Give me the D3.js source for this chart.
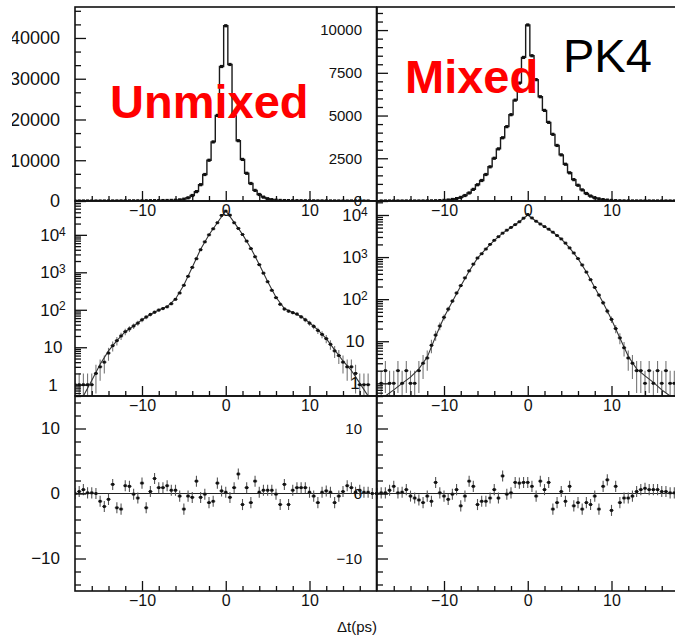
<!DOCTYPE html>
<html><head><meta charset="utf-8">
<script src="https://cdn.jsdelivr.net/npm/d3@7/dist/d3.min.js"></script>
<style>
html,body{margin:0;padding:0;background:#fff;}
svg{display:block;}
text{font-family:"Liberation Sans",Arial,Helvetica,sans-serif;}
</style></head><body>
<svg id="chart" width="675" height="637"></svg>
<script>
// ---------------- DATA ----------------
// Δt bins: centres from -18 to 18 ps, width 0.5 ps
const binWidth = 0.5;
const binStart = -18, binEnd = 18;

// Unmixed event counts per bin (left column), -18 ... 18
const unmixedCounts = [
  1,1,1,1,1,2,3,4,7,11, 15,20,26,31,37,44,54,64,75,86,
  98,108,120,145,190,280,450,780,1350,2300, 4000,6500,10000,14500,21000,33000,
  43000,
  33500,21000,14800,10200,6800,4300,2600,1600,950,560, 330,210,140,105,92,84,77,65,54,44,
  36,28,22,17,12,8,6,4,3,3, 2,1,1,1,0,0
];
// Mixed event counts per bin (right column)
const mixedCounts = [
  0,1,2,1,1,2,1,2,1,1, 2,3,4,8,14,23,37,58,90,140,
  210,320,470,680,950,1200,1550,2000,2500,3050, 3700,4350,5050,5900,6900,8400,
  10300,
  8500,7100,6100,5300,4600,3900,3250,2700,2150,1650, 1250,920,650,440,290,190,125,82,52,33,
  20,12,7,4,3,2,2,1,2,1, 2,1,2,1,1,0
];
// Fit curves sampled at integer Δt, -18 ... 18
const fitUnmixed = [
  0.18,0.5,1.3,3.5,8,15,26,37,54,75,98,122,195,460,1370,4100,10100,21000,
  44000,
  21500,10300,4400,1620,570,215,108,85,66,45,29,17,8.5,4.3,2.4,1.1,0.5,0.2
];
const fitMixed = [
  0.35,0.48,0.7,1.0,1.4,2.2,4.2,13,37,88,205,460,940,1560,2500,3700,5050,6900,
  10000,
  7100,5300,3900,2700,1650,920,440,190,82,33,12,4.4,2.2,1.5,1.05,0.7,0.48,0.33
];
// Residuals (pulls) per bin
const unmixedResid = [
  0,0.3,0.6,0.1,0.1,0.0,-1.2,-2.0,-0.9,1.4, -2.2,-2.4,1.2,1.1,-0.1,-0.7,1.6,-2.2,0.3,2.3,
  0.9,0.9,1.2,0.5,0.5,-0.4,-2.4,-0.4,-0.6,1.9, -0.6,-0.1,-1.4,-1.2,1.6,0.4,
  0.2,
  -0.6,0.9,3.0,-1.7,0.9,-1.4,1.9,0.2,0.5,0.5, 0.5,-0.1,-1.7,1.4,-1.7,0.5,0.9,0.9,0.9,0.2,
  -0.4,-1.4,0.2,0.4,0.2,-1.4,-0.4,0.3,1.2,0.9, 0.2,0.5,0.2,0.2,0.0,0.0
];
const mixedResid = [
  0.0,0.1,0.1,0.5,1.1,0.1,0.2,0.6,-0.4,-0.7, -1.0,-1.4,-0.4,-1.2,1.7,0.1,-0.4,-0.9,-0.1,0.6,
  -1.9,-0.4,1.9,1.1,-1.7,-1.2,-1.2,-0.7,0.6,-0.7, 2.7,-0.1,0.1,1.7,1.6,1.7,
  1.7,
  1.1,-0.4,1.9,0.6,1.7,-2.4,-1.4,0.3,-1.2,1.1, -1.9,-1.4,-2.4,-1.4,-1.7,-0.4,-2.4,1.1,2.1,-2.6,
  1.1,-1.4,-0.7,-0.7,-0.4,0.3,0.6,0.8,0.6,0.6, 0.6,0.3,0.3,0.1,0.1,0.0
];
const pullError = 0.85;

// Tick labels
const xMajorTicks = [-10, 0, 10];
const unmixedLinTicks = [0, 10000, 20000, 30000, 40000];
const mixedLinTicks = [0, 2500, 5000, 7500, 10000];
const logTickPowers = [0, 1, 2, 3, 4];
const residTicks = [-10, 0, 10];
const panelLabels = ["Unmixed", "Mixed"];
const tagLabel = "PK4";
const xTitle = "Δt(ps)";

// ---------------- LAYOUT ----------------
const binCenters = d3.range(binStart, binEnd + 1e-9, binWidth);
const fitX = d3.range(binStart, binEnd + 1e-9, 1);
const W = 301.5;
const ROW_TOP = [7, 201], ROW_MID = [201, 396], ROW_BOT = [396, 591];
const xDomain = [-18, 18];
const residDomain = [-15, 15];
const FONT = '"Liberation Sans",Arial,Helvetica,sans-serif';

const columns = [
  {x0: 75, counts: unmixedCounts, fit: fitUnmixed, resid: unmixedResid, linMax: 47600,
   linTicks: unmixedLinTicks, linMinor: 10000/3, logMax: 80000, ySize: 18, resSize: 17},
  {x0: 377, counts: mixedCounts, fit: fitMixed, resid: mixedResid, linMax: 11350,
   linTicks: mixedLinTicks, linMinor: 500, logMax: 21500, ySize: 15, resSize: 15}
];

const svg = d3.select("#chart");
const defs = svg.append("defs");
let clipN = 0;
function clip(x0, y0, x1, y1) {
  const id = "cp" + (clipN++);
  defs.append("clipPath").attr("id", id).append("rect")
    .attr("x", x0).attr("y", y0).attr("width", x1 - x0).attr("height", y1 - y0);
  return `url(#${id})`;
}
const dataLayer = svg.append("g");
const axisLayer = svg.append("g");
const textLayer = svg.append("g");
// the reference image is cropped just left of x = 12
const leftCrop = clip(12, 0, 675, 637);

columns.forEach(col => {
  const x = d3.scaleLinear().domain(xDomain).range([col.x0, col.x0 + W]);
  const yLin = d3.scaleLinear().domain([0, col.linMax]).range([ROW_TOP[1], ROW_TOP[0]]);
  const yLog = d3.scaleLog().domain([0.5, col.logMax]).range([ROW_MID[1], ROW_MID[0]]).clamp(true);
  const yRes = d3.scaleLinear().domain(residDomain).range([ROW_BOT[1], ROW_BOT[0]]);
  const bins = binCenters.map((c, i) => ({c, v: col.counts[i], r: col.resid[i]}));
  const hw = binWidth / 2;

  // ---- top: linear histogram ----
  const gT = dataLayer.append("g").attr("clip-path", clip(col.x0, ROW_TOP[0], col.x0 + W, ROW_TOP[1]));
  const steps = [];
  bins.forEach(b => { steps.push([b.c - hw, b.v], [b.c + hw, b.v]); });
  gT.append("path")
    .attr("d", d3.line().x(d => x(d[0])).y(d => yLin(d[1]))(steps))
    .attr("fill", "none").attr("stroke", "#1a1a1a").attr("stroke-width", 1.4);
  gT.selectAll("rect").data(bins.filter(b => b.v > 0)).join("rect")
    .attr("x", b => x(b.c) - 1.6).attr("y", b => yLin(b.v) - 1.6)
    .attr("width", 3.2).attr("height", 3.2).attr("fill", "#111");

  // ---- middle: log scale with fit ----
  const gM = dataLayer.append("g").attr("clip-path", clip(col.x0, ROW_MID[0], col.x0 + W, ROW_MID[1]));
  const nz = bins.filter(b => b.v > 0);
  gM.selectAll("line.ev").data(nz).join("line").attr("class", "ev")
    .attr("x1", b => x(b.c)).attr("x2", b => x(b.c))
    .attr("y1", b => yLog(b.v + Math.sqrt(b.v)))
    .attr("y2", b => yLog(Math.max(b.v - Math.sqrt(b.v), 0.01)))
    .attr("stroke", "#777").attr("stroke-width", 1.1);
  gM.append("path")
    .attr("d", d3.line().x((d, i) => x(fitX[i])).y(d => yLog(d))(col.fit))
    .attr("fill", "none").attr("stroke", "#333").attr("stroke-width", 1.1);
  gM.selectAll("line.eh").data(nz).join("line").attr("class", "eh")
    .attr("x1", b => x(b.c - hw)).attr("x2", b => x(b.c + hw))
    .attr("y1", b => yLog(b.v)).attr("y2", b => yLog(b.v))
    .attr("stroke", "#222").attr("stroke-width", 1.2);
  gM.selectAll("rect").data(nz).join("rect")
    .attr("x", b => x(b.c) - 1.4).attr("y", b => yLog(b.v) - 1.4)
    .attr("width", 2.8).attr("height", 2.8).attr("fill", "#111");

  // ---- bottom: residuals ----
  const gB = dataLayer.append("g").attr("clip-path", clip(col.x0, ROW_BOT[0], col.x0 + W, ROW_BOT[1]));
  gB.append("line").attr("x1", x(xDomain[0])).attr("x2", x(xDomain[1]))
    .attr("y1", yRes(0)).attr("y2", yRes(0)).attr("stroke", "#222").attr("stroke-width", 1.2);
  gB.selectAll("line.ev").data(bins).join("line").attr("class", "ev")
    .attr("x1", b => x(b.c)).attr("x2", b => x(b.c))
    .attr("y1", b => yRes(b.r + pullError)).attr("y2", b => yRes(b.r - pullError))
    .attr("stroke", "#555").attr("stroke-width", 1.1);
  gB.selectAll("line.eh").data(bins).join("line").attr("class", "eh")
    .attr("x1", b => x(b.c - hw)).attr("x2", b => x(b.c + hw))
    .attr("y1", b => yRes(b.r)).attr("y2", b => yRes(b.r))
    .attr("stroke", "#333").attr("stroke-width", 1.1);
  gB.selectAll("rect").data(bins).join("rect")
    .attr("x", b => x(b.c) - 1.4).attr("y", b => yRes(b.r) - 1.4)
    .attr("width", 2.8).attr("height", 2.8).attr("fill", "#111");

  // ---- axes ----
  const styleTicks = g => {
    g.select(".domain").remove();
    g.selectAll("line").attr("stroke", "#111").attr("stroke-width", 1.3);
    g.selectAll("text").attr("font-family", FONT).attr("fill", "#111");
  };
  const xMinor = d3.range(-16, 17, 2).filter(v => !xMajorTicks.includes(v));
  [ROW_TOP[1], ROW_MID[1], ROW_BOT[1]].forEach(yPos => {
    axisLayer.append("g").attr("transform", `translate(0,${yPos})`)
      .call(d3.axisBottom(x).tickValues(xMinor).tickSize(-5).tickSizeOuter(0).tickFormat(""))
      .call(styleTicks);
    axisLayer.append("g").attr("transform", `translate(0,${yPos})`)
      .call(d3.axisBottom(x).tickValues(xMajorTicks).tickSize(-10).tickSizeOuter(0).tickPadding(4))
      .call(styleTicks)
      .call(g => g.selectAll("text").attr("font-size", 16));
  });

  // top linear y axis
  const linMinor = d3.range(0, col.linMax, col.linMinor).filter(v => !col.linTicks.some(t => Math.abs(t - v) < 1));
  axisLayer.append("g").attr("transform", `translate(${col.x0},0)`)
    .call(d3.axisLeft(yLin).tickValues(linMinor).tickSize(-6).tickSizeOuter(0).tickFormat(""))
    .call(styleTicks);
  axisLayer.append("g").attr("clip-path", leftCrop).append("g").attr("transform", `translate(${col.x0},0)`)
    .call(d3.axisLeft(yLin).tickValues(col.linTicks).tickSize(-11).tickSizeOuter(0).tickPadding(15).tickFormat(d3.format("d")))
    .call(styleTicks)
    .call(g => g.selectAll("text").attr("font-size", col.ySize));

  // middle log y axis
  const logMinor = [];
  for (let p = -1; p <= 5; p++) for (let m = 2; m <= 9; m++) {
    const v = m * Math.pow(10, p);
    if (v >= 0.5 && v <= col.logMax) logMinor.push(v);
  }
  axisLayer.append("g").attr("transform", `translate(${col.x0},0)`)
    .call(d3.axisLeft(yLog).tickValues(logMinor).tickSize(-6).tickSizeOuter(0).tickFormat(""))
    .call(styleTicks);
  axisLayer.append("g").attr("transform", `translate(${col.x0},0)`)
    .call(d3.axisLeft(yLog).tickValues(logTickPowers.map(p => Math.pow(10, p))).tickSize(-12).tickSizeOuter(0).tickFormat(""))
    .call(styleTicks);
  logTickPowers.forEach(p => {
    const t = textLayer.append("text")
      .attr("x", col.x0 - 22).attr("y", yLog(Math.pow(10, p)))
      .attr("dy", "0.36em").attr("text-anchor", "middle")
      .attr("font-size", 17).attr("font-family", FONT).attr("fill", "#111");
    if (p === 0) t.text("1");
    else if (p === 1) t.text("10");
    else {
      t.append("tspan").text("10");
      t.append("tspan").attr("dy", "-0.45em").attr("font-size", 12).text(p);
    }
  });

  // bottom residual y axis
  const resMinor = d3.range(-14, 15, 2).filter(v => !residTicks.includes(v));
  axisLayer.append("g").attr("transform", `translate(${col.x0},0)`)
    .call(d3.axisLeft(yRes).tickValues(resMinor).tickSize(-6).tickSizeOuter(0).tickFormat(""))
    .call(styleTicks);
  axisLayer.append("g").attr("transform", `translate(${col.x0},0)`)
    .call(d3.axisLeft(yRes).tickValues(residTicks).tickSize(-11).tickSizeOuter(0).tickPadding(15))
    .call(styleTicks)
    .call(g => g.selectAll("text").attr("font-size", col.resSize));

  // frames
  [ROW_TOP, ROW_MID, ROW_BOT].forEach(r => {
    axisLayer.append("rect").attr("x", col.x0).attr("y", r[0]).attr("width", W).attr("height", r[1] - r[0])
      .attr("fill", "none").attr("stroke", "#111").attr("stroke-width", 1.6);
  });
});

// ---- annotations ----
textLayer.append("text").attr("x", 110).attr("y", 118).attr("font-size", 47).attr("font-weight", "bold")
  .attr("font-family", FONT).attr("fill", "#ff0000").text(panelLabels[0]);
textLayer.append("text").attr("x", 405).attr("y", 93).attr("font-size", 47).attr("font-weight", "bold")
  .attr("font-family", FONT).attr("fill", "#ff0000").text(panelLabels[1]);
textLayer.append("text").attr("x", 563).attr("y", 72).attr("font-size", 47)
  .attr("font-family", FONT).attr("fill", "#000").text(tagLabel);
textLayer.append("text").attr("x", 377).attr("y", 632).attr("text-anchor", "end").attr("font-size", 15)
  .attr("font-family", FONT).attr("fill", "#111").text(xTitle);
</script>
</body></html>
